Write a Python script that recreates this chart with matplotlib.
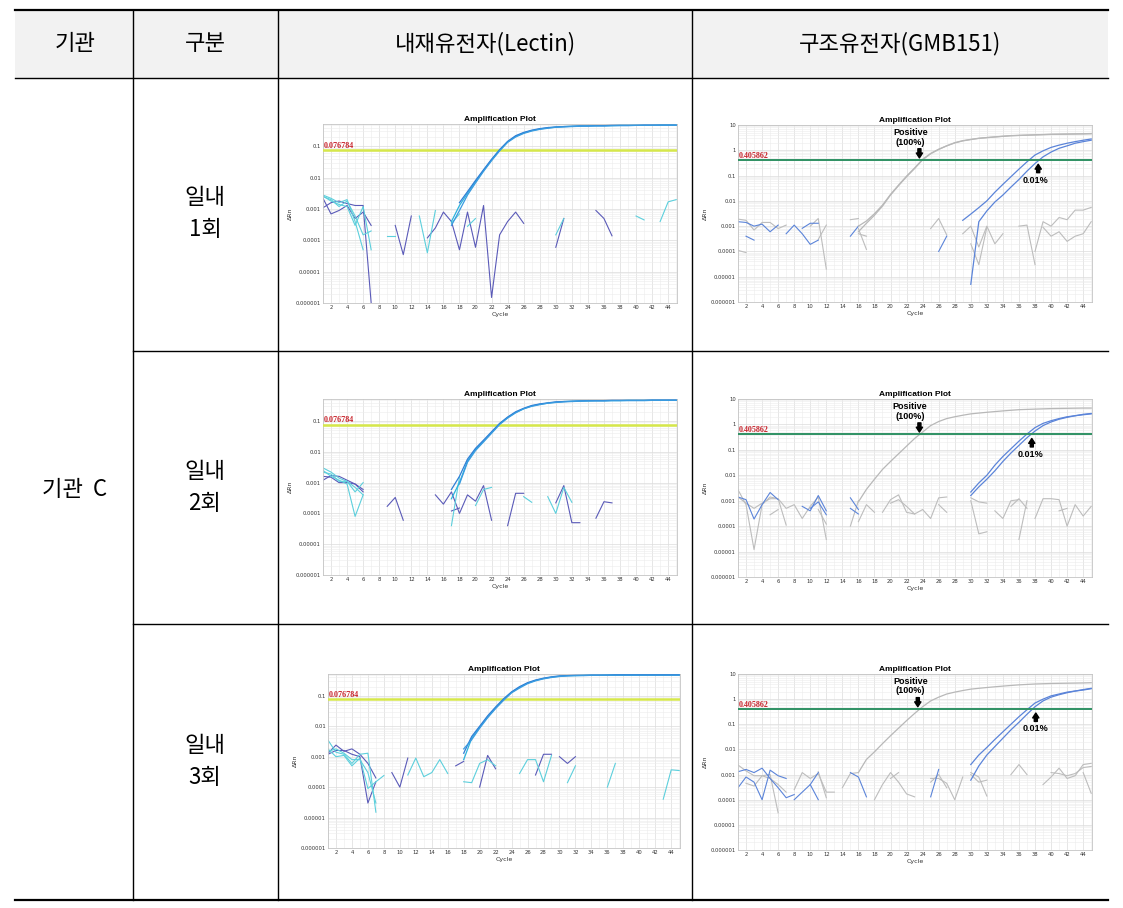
import numpy as np
import matplotlib.pyplot as plt
from matplotlib.patches import Rectangle
from matplotlib.ticker import FixedLocator, NullFormatter

W, H = 1123, 908
KR = ['Noto Sans CJK KR', 'DejaVu Sans']

# table text
HEADERS = ['기관', '구분', '내재유전자(Lectin)', '구조유전자(GMB151)']
ORG = '기관  C'
RUNS = ['일내\n1회', '일내\n2회', '일내\n3회']

LEC_THRESHOLD = 0.076784
GMB_THRESHOLD = 0.405862

# ---- Lectin (endogenous gene) curves: (start cycle, dRn values) ----
LEC1_AMP = [
    (17, [0.0004, 0.0013, 0.0032, 0.0075, 0.017, 0.037, 0.075, 0.14, 0.21, 0.27, 0.32, 0.36, 0.39, 0.41, 0.43,
          0.44, 0.45, 0.45, 0.46, 0.46, 0.46, 0.47, 0.47, 0.47, 0.47, 0.47, 0.48, 0.48, 0.48]),
    (18, [0.0016, 0.0036, 0.0082, 0.018, 0.039, 0.079, 0.145, 0.22, 0.28, 0.33, 0.37, 0.40, 0.42, 0.43,
          0.44, 0.45, 0.45, 0.46, 0.46, 0.47, 0.47, 0.47, 0.47, 0.48, 0.48, 0.48, 0.48, 0.48]),
    (17, [0.0003, 0.0009, 0.0028, 0.0068, 0.016, 0.035, 0.072, 0.135, 0.20, 0.26, 0.31, 0.35, 0.38, 0.41, 0.42,
          0.43, 0.44, 0.45, 0.45, 0.45, 0.46, 0.46, 0.46, 0.47, 0.47, 0.47, 0.47, 0.47, 0.47]),
]
LEC1_PURPLE = [
    (1, [0.0011, 0.0016, 0.0018, 0.0015, 0.0013, 0.0013, 1.0e-6]),
    (1, [0.0022, 0.0007, 0.0009, 0.0013, 0.0005, 0.0008, 0.0003]),
    (10, [0.0003, 0.000035, 0.0006]),
    (14, [0.00012, 0.00025, 0.0008, 0.0004, 0.00005, 0.0008, 0.00006, 0.0013, 1.5e-6, 0.00015, 0.0004, 0.0008,
          0.00035]),
    (30, [0.00006, 0.0005]),
    (35, [0.0009, 0.0005, 0.00014]),
]
LEC1_CYAN = [
    (1, [0.0028, 0.0022, 0.0016, 0.0020, 0.0004, 0.00005]),
    (1, [0.0026, 0.0018, 0.0014, 0.0012, 0.0003, 0.0012, 0.00005]),
    (1, [0.0025, 0.0020, 0.0012, 0.0018, 0.0006, 0.00015, 0.0002]),
    (9, [0.00014, 0.00014]),
    (13, [0.0006, 0.00004, 0.0009]),
    (17, [0.00035, 0.0007]),
    (19, [0.00028, 0.0005]),
    (30, [0.00015, 0.0005]),
    (40, [0.0006, 0.00045]),
    (43, [0.0004, 0.0017, 0.002]),
]

LEC2_AMP = [
    (17, [0.0003, 0.0010, 0.0050, 0.012, 0.022, 0.042, 0.08, 0.13, 0.19, 0.25, 0.31, 0.35, 0.38, 0.41, 0.43,
          0.44, 0.45, 0.45, 0.46, 0.46, 0.46, 0.46, 0.47, 0.47, 0.47, 0.47, 0.47, 0.47, 0.47]),
    (17, [0.0006, 0.0016, 0.0058, 0.013, 0.024, 0.045, 0.084, 0.135, 0.20, 0.26, 0.32, 0.36, 0.39, 0.42, 0.43,
          0.44, 0.45, 0.46, 0.46, 0.46, 0.47, 0.47, 0.47, 0.47, 0.47, 0.48, 0.48, 0.48, 0.48]),
    (18, [0.0009, 0.0046, 0.011, 0.021, 0.040, 0.077, 0.125, 0.185, 0.25, 0.30, 0.34, 0.38, 0.40, 0.42,
          0.43, 0.44, 0.45, 0.45, 0.45, 0.46, 0.46, 0.46, 0.46, 0.46, 0.47, 0.47, 0.47, 0.47]),
]
LEC2_PURPLE = [
    (1, [0.0012, 0.0017, 0.0016, 0.0012, 0.0009, 0.0006]),
    (1, [0.0016, 0.0015, 0.0010, 0.0010, 0.0009, 0.0005]),
    (9, [0.00017, 0.00033, 0.00006]),
    (15, [0.0004, 0.0002, 0.0005, 0.0001, 0.0004, 0.00025, 0.0008, 0.00006]),
    (17, [0.00012, 0.00015]),
    (24, [0.00004, 0.00045, 0.00045]),
    (30, [0.00022, 0.0008, 0.00005, 0.00005]),
    (35, [0.00007, 0.00024, 0.00022]),
]
LEC2_CYAN = [
    (1, [0.0030, 0.0022, 0.0014, 0.0011, 0.0007, 0.0004]),
    (1, [0.0022, 0.0019, 0.0011, 0.0011, 0.0005, 0.0010]),
    (1, [0.0025, 0.0016, 0.0012, 0.0009, 0.00008, 0.0004]),
    (17, [0.00004, 0.0015]),
    (20, [0.00018, 0.0006, 0.0007]),
    (26, [0.00035, 0.00023]),
    (29, [0.00035, 0.0001, 0.0007, 0.00023]),
]

LEC3_AMP = [
    (18, [0.0008, 0.0040, 0.0093, 0.020, 0.040, 0.075, 0.13, 0.19, 0.26, 0.32, 0.37, 0.41, 0.44, 0.46,
          0.46, 0.47, 0.47, 0.47, 0.48, 0.48, 0.48, 0.48, 0.48, 0.48, 0.48, 0.48, 0.48, 0.48]),
    (18, [0.0013, 0.0046, 0.010, 0.022, 0.043, 0.080, 0.135, 0.20, 0.27, 0.33, 0.38, 0.42, 0.45, 0.46,
          0.47, 0.47, 0.48, 0.48, 0.48, 0.49, 0.49, 0.49, 0.49, 0.49, 0.49, 0.49, 0.49, 0.49]),
    (18, [0.0018, 0.0036, 0.0086, 0.019, 0.038, 0.071, 0.125, 0.18, 0.25, 0.31, 0.36, 0.40, 0.43, 0.45,
          0.46, 0.46, 0.47, 0.47, 0.47, 0.47, 0.47, 0.47, 0.47, 0.47, 0.47, 0.47, 0.47, 0.47]),
]
LEC3_PURPLE = [
    (1, [0.0013, 0.0024, 0.0015, 0.0018, 0.0012, 0.0006, 0.0002]),
    (1, [0.0012, 0.0016, 0.0016, 0.0012, 0.0010, 0.00003, 0.00015]),
    (9, [0.0003, 0.0001, 0.0009]),
    (17, [0.0005, 0.0007]),
    (20, [0.0001, 0.0011, 0.0004]),
    (27, [0.00025, 0.0012, 0.0012]),
    (30, [0.0010, 0.0006, 0.0010]),
]
LEC3_CYAN = [
    (1, [0.0035, 0.0014, 0.0012, 0.0006, 0.0012, 0.0013, 0.000015]),
    (1, [0.0018, 0.0010, 0.0011, 0.0005, 0.0009, 0.00009, 0.00015, 0.00024]),
    (1, [0.0015, 0.0018, 0.0013, 0.0008, 0.0008, 0.0003, 0.00003]),
    (11, [0.00025, 0.0009, 0.00022, 0.0003, 0.0008, 0.00028]),
    (18, [0.00015, 0.00014, 0.0006, 0.0008, 0.0005]),
    (25, [0.00028, 0.0008, 0.0008, 0.00015, 0.0011]),
    (31, [0.00014, 0.0005]),
    (36, [0.0001, 0.0006]),
    (43, [0.00004, 0.00037, 0.00035]),
]

# ---- GMB151 (construct gene) curves ----
GMB1_POS = [
    (16, [0.0010, 0.0016, 0.0031, 0.0068, 0.018, 0.042, 0.095, 0.20, 0.44, 0.75, 1.1, 1.5, 2.0, 2.4, 2.7,
          3.0, 3.2, 3.4, 3.6, 3.8, 3.9, 4.0, 4.1, 4.2, 4.3, 4.35, 4.4, 4.45, 4.5, 4.6]),
    (16, [0.0006, 0.0013, 0.0027, 0.0062, 0.017, 0.040, 0.090, 0.19, 0.42, 0.73, 1.08, 1.5, 1.95, 2.35, 2.65,
          2.95, 3.15, 3.35, 3.55, 3.75, 3.85, 3.95, 4.05, 4.15, 4.25, 4.3, 4.35, 4.4, 4.45, 4.5]),
]
GMB1_LOW = [
    (29, [0.0017, 0.003, 0.0054, 0.010, 0.022, 0.045, 0.09, 0.18, 0.35, 0.65, 0.95, 1.3, 1.6, 1.9, 2.2, 2.5, 2.8]),
    (30, [0.000005, 0.0015, 0.004, 0.009, 0.017, 0.035, 0.07, 0.15, 0.30, 0.55, 0.85, 1.2, 1.5, 1.9, 2.2, 2.5]),
]
GMB1_GRAY = [
    (1, [0.0019, 0.0017, 0.0007, 0.0014, 0.0014, 0.0008, 0.0011]),
    (1, [0.00011, 0.00009]),
    (10, [0.001, 0.002, 0.00002]),
    (11, [0.0003, 0.0011]),
    (15, [0.0018, 0.002]),
    (16, [0.0008, 0.00012]),
    (16, [0.0005, 0.0004]),
    (25, [0.0008, 0.002, 0.00045]),
    (29, [0.0005, 0.001, 0.00015, 0.001, 0.0002, 0.0005]),
    (30, [0.0002, 0.00003, 0.0009]),
    (36, [0.001, 0.0011, 0.00003]),
    (38, [0.0001, 0.0015, 0.001, 0.0022, 0.0018, 0.0043, 0.0043, 0.0055]),
    (39, [0.0009, 0.0004, 0.0006, 0.00025, 0.0004, 0.0005, 0.0015]),
]
GMB1_BLUE = [
    (1, [0.0015, 0.0014, 0.0010, 0.0012, 0.0006, 0.0011]),
    (2, [0.0004, 0.00028]),
    (7, [0.0005, 0.0011, 0.0005, 0.00019, 0.00028]),
    (9, [0.00082, 0.0013, 0.0013]),
    (15, [0.0004, 0.001]),
    (26, [0.0001, 0.0004]),
]

GMB2_POS = [
    (16, [0.0009, 0.0028, 0.007, 0.017, 0.035, 0.07, 0.14, 0.28, 0.5, 0.9, 1.3, 1.7, 2.0, 2.3, 2.6,
          2.8, 3.0, 3.2, 3.4, 3.6, 3.8, 3.9, 4.0, 4.1, 4.2, 4.25, 4.3, 4.35, 4.4, 4.4]),
]
GMB2_LOW = [
    (30, [0.0022, 0.005, 0.010, 0.025, 0.055, 0.11, 0.22, 0.42, 0.75, 1.1, 1.4, 1.7, 2.0, 2.2, 2.5, 2.7]),
    (30, [0.0016, 0.0035, 0.007, 0.015, 0.035, 0.075, 0.15, 0.30, 0.55, 0.9, 1.25, 1.6, 1.9, 2.2, 2.4, 2.6]),
]
GMB2_GRAY = [
    (1, [0.0027, 0.0007, 0.000012, 0.0007, 0.0014, 0.0012, 0.00011]),
    (1, [0.0014, 0.0008, 0.0005, 0.0008, 0.0012, 0.0012, 0.0005, 0.0007, 0.0002, 0.0006, 0.0014, 0.00003]),
    (5, [0.00028, 0.00045]),
    (11, [0.00045, 0.00012]),
    (15, [0.0001, 0.0010]),
    (16, [0.00015, 0.0007, 0.00035]),
    (19, [0.00035, 0.0011, 0.0017, 0.00035, 0.0003, 0.00045, 0.0002, 0.0013, 0.0014]),
    (20, [0.0008, 0.0011, 0.0006, 0.0003]),
    (26, [0.0007, 0.00035]),
    (30, [0.0013, 0.0009, 0.0008]),
    (30, [0.0010, 0.00005, 0.00006]),
    (33, [0.0004, 0.0002, 0.0010, 0.0011]),
    (35, [0.0006, 0.0012, 0.0005]),
    (36, [0.00003, 0.0010]),
    (38, [0.0002, 0.0012, 0.0012, 0.0011, 0.0001, 0.0007, 0.00025, 0.0006]),
    (41, [0.0004, 0.0005]),
]
GMB2_BLUE = [
    (1, [0.0014, 0.0011, 0.00019, 0.0007, 0.0021, 0.0011]),
    (9, [0.0006, 0.0004, 0.0016, 0.0004]),
    (10, [0.0005, 0.0009, 0.00028]),
    (15, [0.0013, 0.00045]),
    (15, [0.0005, 0.0003]),
]

GMB3_POS = [
    (16, [0.0012, 0.004, 0.008, 0.017, 0.035, 0.07, 0.14, 0.27, 0.5, 0.85, 1.2, 1.6, 1.9, 2.2, 2.5,
          2.7, 2.9, 3.1, 3.3, 3.5, 3.7, 3.85, 4.0, 4.1, 4.2, 4.25, 4.3, 4.35, 4.4, 4.5]),
]
GMB3_LOW = [
    (30, [0.0025, 0.006, 0.012, 0.025, 0.05, 0.10, 0.20, 0.38, 0.70, 1.0, 1.35, 1.6, 1.9, 2.1, 2.4, 2.7]),
    (30, [0.0006, 0.0022, 0.006, 0.013, 0.028, 0.06, 0.12, 0.25, 0.50, 0.85, 1.2, 1.5, 1.8, 2.1, 2.3, 2.6]),
]
GMB3_GRAY = [
    (1, [0.0024, 0.0014, 0.0009, 0.0009, 0.0010, 0.00003]),
    (2, [0.00045, 0.00035, 0.0009, 0.0007, 0.0004, 0.0002]),
    (8, [0.00025, 0.0012, 0.0007, 0.0011, 0.0002, 0.0002]),
    (11, [0.0013, 0.00012]),
    (14, [0.0003, 0.0011, 0.0012]),
    (18, [0.0001, 0.0004, 0.0012, 0.0005, 0.00017, 0.00013]),
    (20, [0.0007, 0.0012]),
    (25, [0.0007, 0.0007, 0.00045, 0.0001, 0.0008]),
    (25, [0.0005, 0.0010, 0.0003]),
    (30, [0.0012, 0.0008, 0.00014]),
    (30, [0.0010, 0.0005, 0.0006]),
    (35, [0.0010, 0.0025, 0.0010]),
    (39, [0.0004, 0.0008, 0.0018, 0.0007, 0.0009, 0.0025, 0.0028]),
    (40, [0.0012, 0.0011, 0.0009, 0.0011, 0.0019, 0.0021]),
    (44, [0.0012, 0.00018]),
]
GMB3_BLUE = [
    (1, [0.0013, 0.0016, 0.0012, 0.0018, 0.0007, 0.0003, 0.00012, 0.00016]),
    (1, [0.0003, 0.0008, 0.0005, 0.0001, 0.0015, 0.0009, 0.0007]),
    (8, [0.0001, 0.0002, 0.0004, 0.0001]),
    (10, [0.0004, 0.0012]),
    (15, [0.0012, 0.0008, 0.00013]),
    (25, [0.00013, 0.0016]),
]

LEC_PANELS = [(LEC1_AMP, LEC1_PURPLE, LEC1_CYAN),
              (LEC2_AMP, LEC2_PURPLE, LEC2_CYAN),
              (LEC3_AMP, LEC3_PURPLE, LEC3_CYAN)]
GMB_PANELS = [(GMB1_POS, GMB1_LOW, GMB1_GRAY, GMB1_BLUE),
              (GMB2_POS, GMB2_LOW, GMB2_GRAY, GMB2_BLUE),
              (GMB3_POS, GMB3_LOW, GMB3_GRAY, GMB3_BLUE)]

# pixel boxes (left, top, right, bottom) of the plot areas
LEC_BOX = [(323, 124, 677, 303), (323, 399, 677, 575), (328, 674, 680, 848)]
GMB_BOX = [(738, 125, 1092, 302), (738, 399, 1092, 577), (738, 674, 1092, 850)]
# annotation cycles: (text x, arrow x) for positive and 0.01 %
POS_ANN = [(22.5, 23.6), (22.4, 23.6), (22.5, 23.4)]
LOW_ANN = [(38.0, 38.4), (37.4, 37.6), (38.0, 38.1)]


def px_axes(fig, box):
    l, t, r, b = box
    return fig.add_axes([l / W, 1 - b / H, (r - l) / W, (b - t) / H])


def draw_frags(ax, frags, color, lw=0.8, alpha=1.0):
    for start, vals in frags:
        x = np.arange(start, start + len(vals))
        ax.plot(x, vals, color=color, lw=lw, alpha=alpha, solid_joinstyle='round')


def style_axes(ax, ymax, decades):
    ax.set_yscale('log')
    ax.set_xlim(1, 45.1)
    ax.set_ylim(1e-6, ymax)
    ax.yaxis.set_major_locator(FixedLocator(decades))
    labels = [('%.6f' % d).rstrip('0').rstrip('.') if d < 1 else '%d' % d for d in decades]
    ax.set_yticklabels(labels)
    ax.yaxis.set_minor_formatter(NullFormatter())
    ax.set_xticks(range(2, 45, 2))
    ax.set_xticks(range(1, 46), minor=True)
    ax.grid(which='major', color='#dcdcdc', lw=0.5)
    ax.grid(which='minor', color='#ececec', lw=0.4)
    ax.set_axisbelow(True)
    ax.tick_params(which='both', length=0, labelsize=3.8, pad=1.5, colors='#333333')
    for s in ax.spines.values():
        s.set_color('#c4c4c4')
        s.set_linewidth(0.6)
    ax.set_title('Amplification Plot', fontsize=6, fontweight='bold', family='Liberation Sans', pad=2.5)
    ax.set_xlabel('Cycle', fontsize=4.5, color='#333333', labelpad=1.5)
    ax.set_ylabel('ΔRn', fontsize=4.5, color='#333333', labelpad=2)


fig = plt.figure(figsize=(W / 100, H / 100), dpi=100)
bg = fig.add_axes([0, 0, 1, 1])
bg.set_xlim(0, W)
bg.set_ylim(H, 0)
bg.axis('off')

# table frame
bg.add_patch(Rectangle((15, 10), 1093, 68, color='#f2f2f2', lw=0))
bg.plot([15, 1108], [10, 10], color='black', lw=1.6)
bg.plot([15, 1108], [78, 78], color='black', lw=1.0)
bg.plot([15, 1108], [900, 900], color='black', lw=1.6)
for yy in [351, 624]:
    bg.plot([133, 1108], [yy, yy], color='black', lw=1.0)
for xx in [133, 278, 692]:
    bg.plot([xx, xx], [10, 900], color='black', lw=1.0)

for xc, txt in zip([75, 205, 485, 900], HEADERS):
    bg.text(xc, 44, txt, ha='center', va='center', fontsize=16, family=KR)
bg.text(75, 490, ORG, ha='center', va='center', fontsize=16, family=KR)
for yc, txt in zip([214, 488, 762], RUNS):
    bg.text(205, yc, txt, ha='center', va='center', fontsize=16, family=KR, linespacing=1.5)

lec_decades = [1e-6, 1e-5, 1e-4, 1e-3, 1e-2, 1e-1]
gmb_decades = [1e-6, 1e-5, 1e-4, 1e-3, 1e-2, 1e-1, 1, 10]
arrow_style = 'simple,head_length=0.35,head_width=0.45,tail_width=0.22'

# Lectin panels
for box, (amp, purple, cyan) in zip(LEC_BOX, LEC_PANELS):
    ax = px_axes(fig, box)
    style_axes(ax, 0.52, lec_decades)
    draw_frags(ax, purple, '#5a5ab8')
    draw_frags(ax, cyan, '#5ccfdc')
    ax.axhline(LEC_THRESHOLD, color='#d6e84a', lw=1.8, zorder=3)
    amp_colors = ['#2bb3dd', '#2f7ed6', '#3a9be0']
    for (start, vals), c in zip(amp, amp_colors):
        ax.plot(np.arange(start, start + len(vals)), vals, color=c, lw=0.9, zorder=4)
    ax.text(1.1, LEC_THRESHOLD * 1.02, '%g' % LEC_THRESHOLD, color='#c8232b', fontsize=5.8,
            fontweight='bold', family='Liberation Serif', va='bottom', zorder=5)

# GMB151 panels
for i, (box, (pos, low, gray, blue)) in enumerate(zip(GMB_BOX, GMB_PANELS)):
    ax = px_axes(fig, box)
    style_axes(ax, 10, gmb_decades)
    draw_frags(ax, gray, '#bdbdbd')
    draw_frags(ax, blue, '#5b84d9')
    draw_frags(ax, pos, '#b8b8b8', lw=0.9)
    draw_frags(ax, low, '#5b84d9', lw=0.9)
    ax.axhline(GMB_THRESHOLD, color='#2e9163', lw=1.4, zorder=3)
    ax.text(1.1, GMB_THRESHOLD * 1.03, '%g' % GMB_THRESHOLD, color='#c8232b', fontsize=5.8,
            fontweight='bold', family='Liberation Serif', va='bottom', zorder=5)
    tx, ax_x = POS_ANN[i]
    ax.text(tx, 3.3, 'Positive\n(100%)', ha='center', va='center', fontsize=6.5,
            fontweight='bold', family='Liberation Sans', linespacing=1.1)
    ax.annotate('', xy=(ax_x, 0.5), xytext=(ax_x, 1.15),
                arrowprops=dict(arrowstyle=arrow_style, color='black', shrinkA=0, shrinkB=0,
                                mutation_scale=10))
    tx, ax_x = LOW_ANN[i]
    ax.text(tx, 0.066, '0.01%', ha='center', va='center', fontsize=6.5,
            fontweight='bold', family='Liberation Sans')
    ax.annotate('', xy=(ax_x, 0.28), xytext=(ax_x, 0.13),
                arrowprops=dict(arrowstyle=arrow_style, color='black', shrinkA=0, shrinkB=0,
                                mutation_scale=10))

fig.savefig('out.png', dpi=100)
